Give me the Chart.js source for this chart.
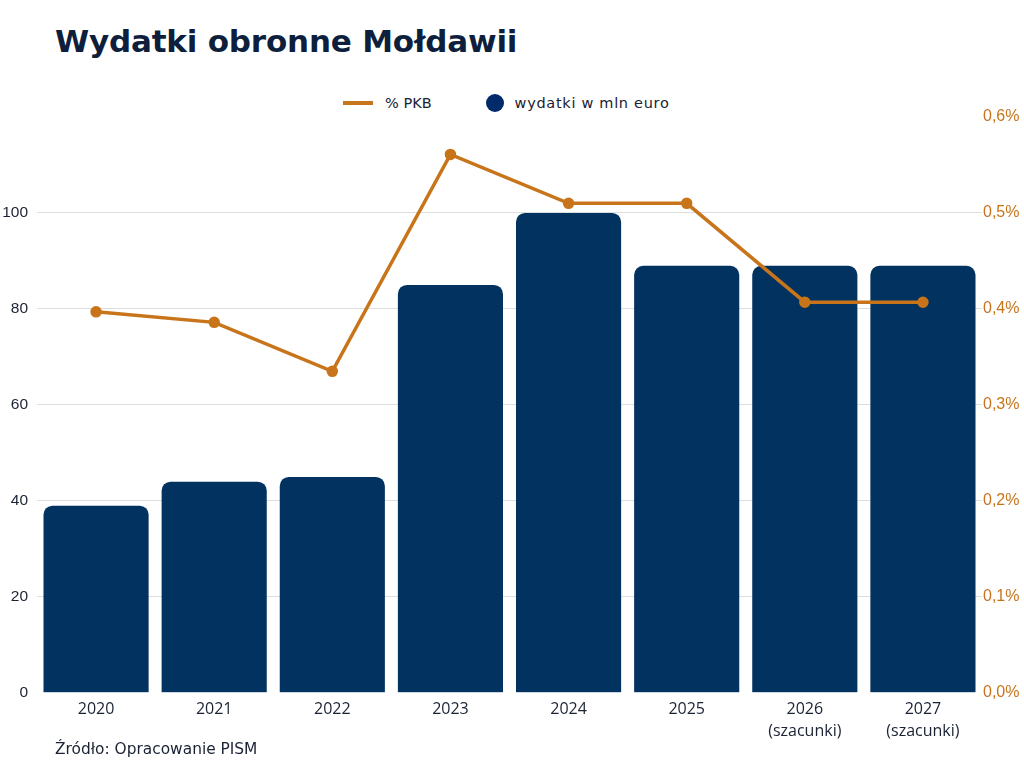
<!DOCTYPE html>
<html>
<head>
<meta charset="utf-8">
<script src="https://cdn.jsdelivr.net/npm/chart.js@4.4.1/dist/chart.umd.min.js"></script>
<style>
  body { margin: 0; background: #fff; width: 1024px; height: 768px; position: relative; overflow: hidden; }
  #title { position: absolute; left: 55px; top: 23px; font: bold 31px "DejaVu Sans", sans-serif; color: #0d1f3c; letter-spacing: -0.2px; }
  #legend { position: absolute; top: 92px; left: 343px; font: 14.5px "DejaVu Sans", sans-serif; color: #1a2233; display: flex; align-items: center; height: 22px; }
  #legend .ln { width: 30px; height: 4px; background: #c8741a; display: inline-block; margin-right: 12px; }
  #legend .dot { width: 18px; height: 18px; border-radius: 50%; background: #012a6b; display: inline-block; margin-left: 54px; margin-right: 11px; }
  #legend .wide { letter-spacing: 0.7px; }
  #wrap { position: absolute; left: 0; top: 93px; width: 1024px; height: 647px; }
  #src { position: absolute; left: 55px; top: 740px; font: 15.4px "DejaVu Sans", sans-serif; color: #1a2233; }
</style>
</head>
<body>
<div id="title">Wydatki obronne Mołdawii</div>
<div id="legend"><span class="ln"></span>% PKB<span class="dot"></span><span class="wide">wydatki w mln euro</span></div>
<div id="wrap"><canvas id="chart"></canvas></div>
<div id="src">Źródło: Opracowanie PISM</div>
<script>
var years = [['2020'], ['2021'], ['2022'], ['2023'], ['2024'], ['2025'], ['2026', '(szacunki)'], ['2027', '(szacunki)']];
var spending = [39, 44, 45, 85, 100, 89, 89, 89];
var gdpShare = [0.397, 0.386, 0.335, 0.561, 0.51, 0.51, 0.407, 0.407];

var ctx = document.getElementById('chart').getContext('2d');

var chart = new Chart(ctx, {
    data: {
        labels: years,
        datasets: [{
            type: 'line',
            label: '% PKB',
            data: gdpShare,
            yAxisID: 'y1',
            borderColor: '#c8741a',
            backgroundColor: '#c8741a',
            borderWidth: 3.5,
            pointRadius: 4,
            pointHoverRadius: 4,
            tension: 0,
            order: 0
        }, {
            type: 'bar',
            label: 'wydatki w mln euro',
            data: spending,
            yAxisID: 'y',
            backgroundColor: '#02325f',
            borderRadius: { topLeft: 9, topRight: 9 },
            borderSkipped: 'bottom',
            barPercentage: 0.89,
            categoryPercentage: 1.0,
            order: 1
        }]
    },
    options: {
        responsive: true,
        maintainAspectRatio: false,
        animation: false,
        layout: { padding: { top: 24, left: 0, right: 0, bottom: 0 } },
        plugins: {
            legend: { display: false },
            tooltip: { enabled: false }
        },
        scales: {
            x: {
                grid: { display: false },
                border: { display: false },
                ticks: {
                    color: '#1a2233',
                    font: { family: 'Open Sans', size: 16, lineHeight: 1.35 },
                    padding: -2
                }
            },
            y: {
                position: 'left',
                min: 0,
                max: 120,
                border: { display: false },
                afterFit: function (scale) { scale.width = 37; },
                grid: {
                    color: function (c) { return c.tick && (c.tick.value === 120 || c.tick.value === 0) ? 'rgba(0,0,0,0)' : '#dddddd'; },
                    drawTicks: false
                },
                ticks: {
                    stepSize: 20,
                    padding: 9,
                    color: '#1a2233',
                    font: { family: 'Liberation Sans', size: 15.5 },
                    callback: function (v) { return v === 120 ? '' : v; }
                }
            },
            y1: {
                position: 'right',
                min: 0,
                max: 0.6,
                border: { display: false },
                afterFit: function (scale) { scale.width = 42; },
                grid: { display: false, drawTicks: false },
                ticks: {
                    stepSize: 0.1,
                    padding: 1,
                    color: '#c8741a',
                    font: { family: 'Liberation Sans', size: 16 },
                    callback: function (v) { return v.toFixed(1).replace('.', ',') + '%'; }
                }
            }
        }
    }
});
</script>
</body>
</html>
